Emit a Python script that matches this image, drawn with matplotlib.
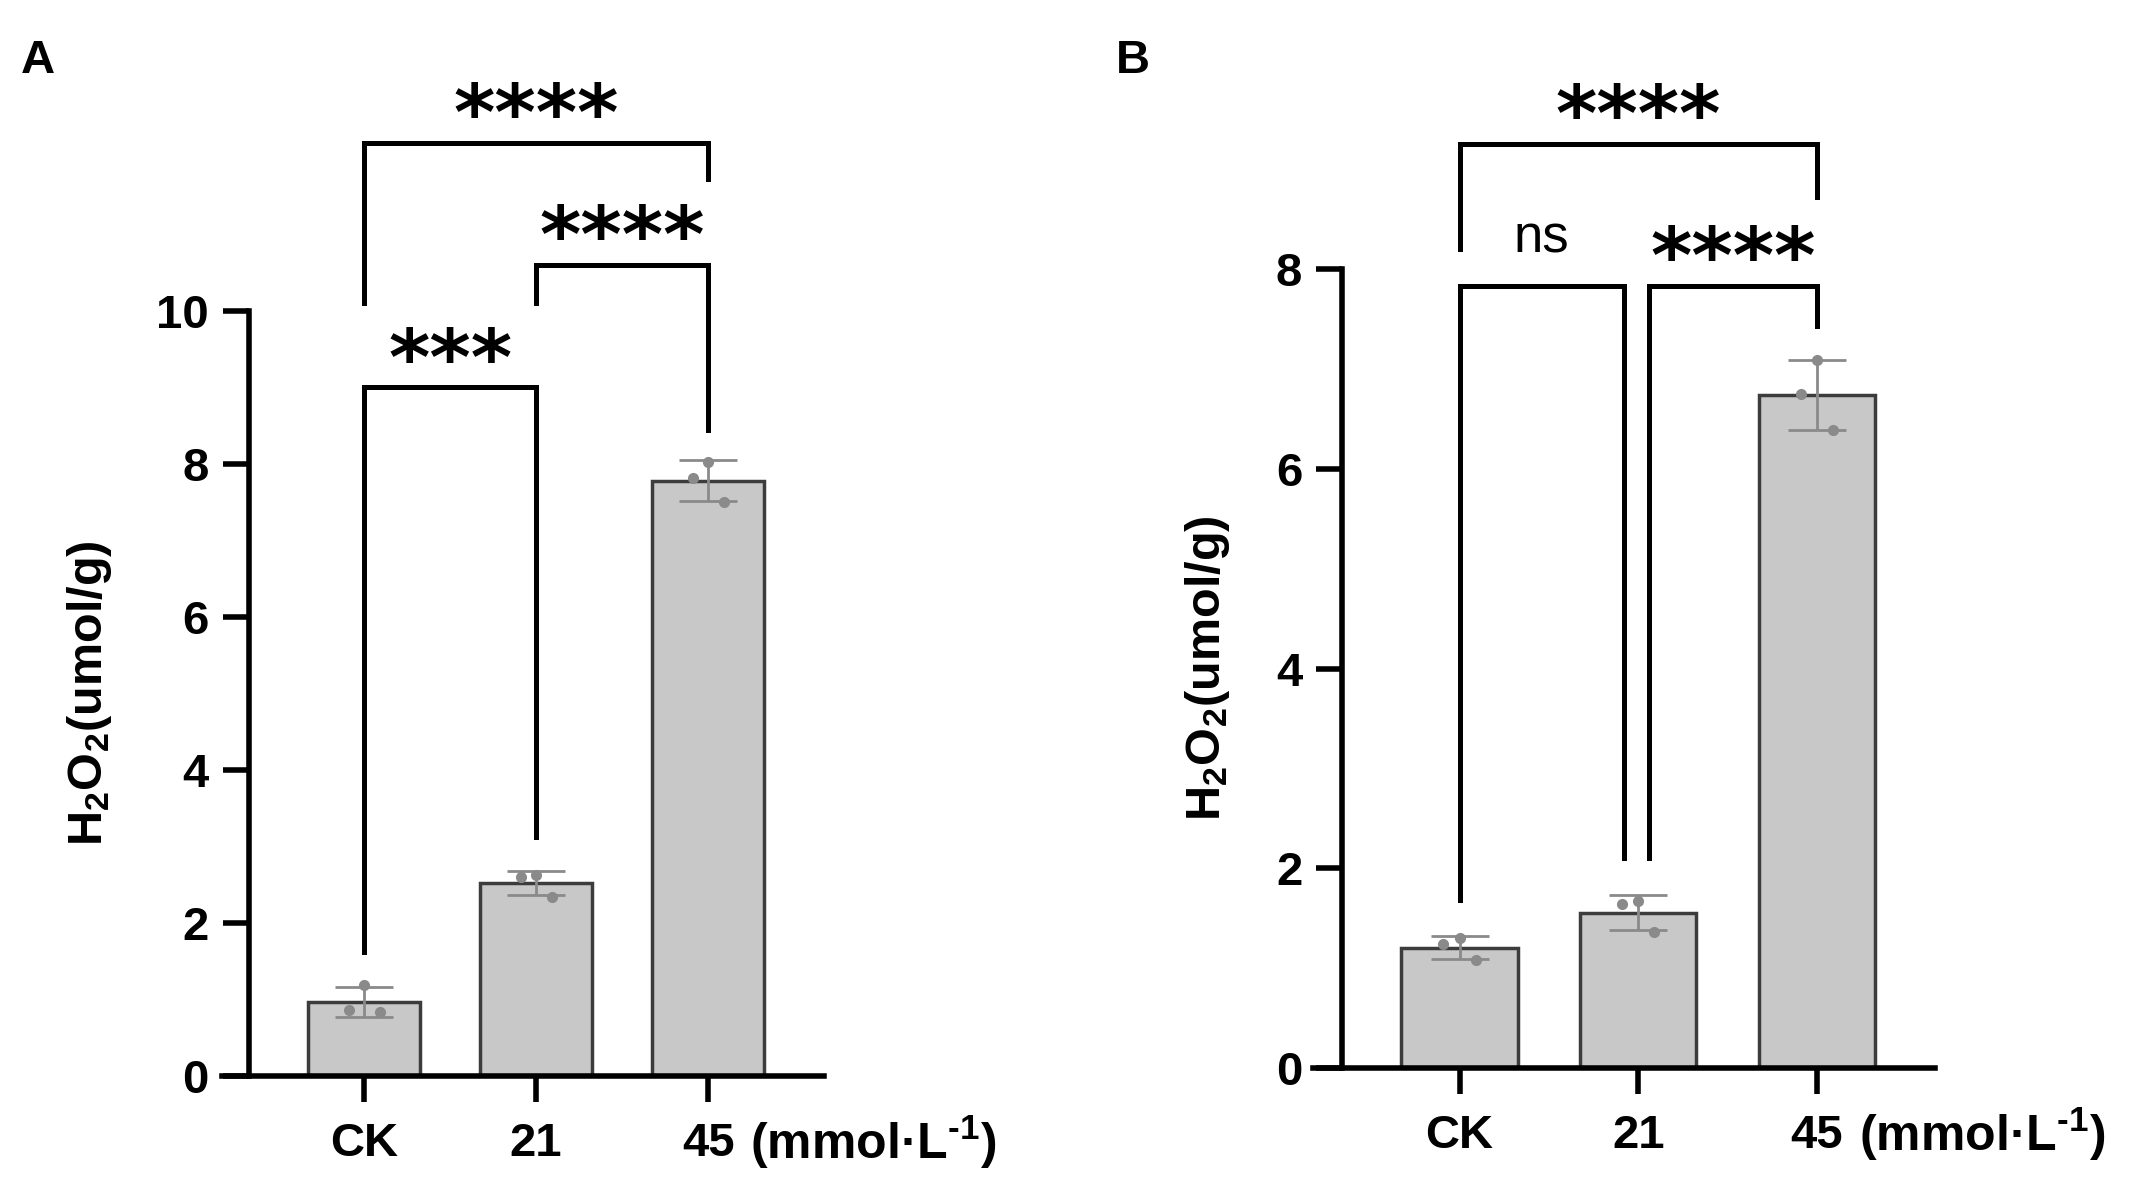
import matplotlib
matplotlib.use('Agg')
import matplotlib.pyplot as plt
import numpy as np

# data (three replicates per group)
groups = ['CK', '21', '45']
a_points = [[1.19, 0.86, 0.84], [2.63, 2.60, 2.34], [8.03, 7.82, 7.50]]
b_points = [[1.30, 1.24, 1.08], [1.67, 1.64, 1.36], [7.09, 6.75, 6.39]]
jitter = [0.0, -0.09, 0.09]

# significance brackets: (x1, x2, y, leg1 bottom, leg2 bottom, label)
a_brackets = [(0, 1, 9.0, 1.62, 3.12, '***'),
              (1, 2, 10.6, 10.1, 8.45, '****'),
              (0, 2, 12.2, 10.1, 11.72, '****')]
b_brackets = [(0, 0.92, 7.83, 1.68, 2.1, 'ns'),
              (1.06, 2, 7.83, 2.1, 7.43, '****'),
              (0, 2, 9.25, 8.2, 8.72, '****')]

plt.rcParams['font.family'] = ['Liberation Sans', 'DejaVu Sans']
plt.rcParams['font.weight'] = 'bold'
plt.rcParams['mathtext.fontset'] = 'custom'
plt.rcParams['mathtext.rm'] = 'Liberation Sans:bold'
plt.rcParams['mathtext.it'] = 'Liberation Sans:bold'
plt.rcParams['mathtext.bf'] = 'Liberation Sans:bold'
plt.rcParams['mathtext.default'] = 'rm'

bar_face = '#c8c8c8'
bar_edge = '#3c3c3c'
dot_col = '#8a8a8a'


def draw_panel(ax, points, brackets, ymax, spine_x, xlim, ylab_x):
    x = np.arange(len(groups))
    means = [np.mean(p) for p in points]
    sds = [np.std(p, ddof=1) for p in points]
    ax.bar(x, means, width=0.65, color=bar_face, edgecolor=bar_edge,
           linewidth=2.5, zorder=2)
    ax.errorbar(x, means, yerr=sds, fmt='none', ecolor=dot_col,
                elinewidth=2, capsize=21, capthick=2, zorder=3)
    for i, p in enumerate(points):
        ax.plot(x[i] + np.array(jitter), p, 'o', color=dot_col, ms=7,
                zorder=4, clip_on=False)

    for x1, x2, y, b1, b2, lab in brackets:
        ax.plot([x1, x1, x2, x2], [b1, y, y, b2], color='black', lw=3.6,
                clip_on=False, solid_joinstyle='miter', zorder=5)
        if lab == 'ns':
            ax.annotate(lab, xy=((x1 + x2) / 2, y), xytext=(0, 24),
                        textcoords='offset points', ha='center', va='baseline',
                        fontsize=38, fontweight='normal', annotation_clip=False)
        else:
            ax.annotate(lab, xy=((x1 + x2) / 2, y), xytext=(0, 2),
                        textcoords='offset points', ha='center', va='baseline',
                        fontsize=57, fontweight='bold', family='DejaVu Sans',
                        annotation_clip=False)

    ax.set_xlim(*xlim)
    ax.set_ylim(0, ymax)
    ax.spines['top'].set_visible(False)
    ax.spines['right'].set_visible(False)
    ax.spines['left'].set_position(('data', spine_x))
    ax.spines['left'].set_bounds(0, ymax)
    ax.spines['left'].set_linewidth(4)
    ax.spines['bottom'].set_linewidth(4)
    ax.set_yticks(np.arange(0, ymax + 1, 2))
    ax.set_xticks(x)
    ax.set_xticklabels(groups)
    ax.tick_params(axis='both', length=19, width=4, labelsize=34)
    ax.tick_params(axis='y', pad=10)
    ax.tick_params(axis='x', pad=14)
    ax.annotate('(mmol·L$^{\u20101}$)', xy=(2, 0), xytext=(30, -60),
                textcoords='offset points', ha='left', va='baseline',
                fontsize=36, fontweight='bold', annotation_clip=False)
    ax.text(ylab_x, 0.5, 'H$_2$O$_2$(umol/g)', transform=ax.transAxes,
            rotation=90, ha='center', va='center', fontsize=35,
            fontweight='bold')


fig = plt.figure(figsize=(21.56, 11.92), dpi=100)
axA = fig.add_axes([0.1030, 0.0973, 0.2792, 0.6418])
axB = fig.add_axes([0.6090, 0.1040, 0.2885, 0.6703])

draw_panel(axA, a_points, a_brackets, 10, -0.669, (-0.826, 2.674), -0.221)
draw_panel(axB, b_points, b_brackets, 8, -0.655, (-0.82, 2.66), -0.170)

fig.text(21 / 2156, 1 - 73 / 1192, 'A', ha='left', va='baseline',
         fontsize=34, fontweight='bold')
fig.text(1116 / 2156, 1 - 73 / 1192, 'B', ha='left', va='baseline',
         fontsize=34, fontweight='bold')

fig.savefig('out.png', dpi=100)
